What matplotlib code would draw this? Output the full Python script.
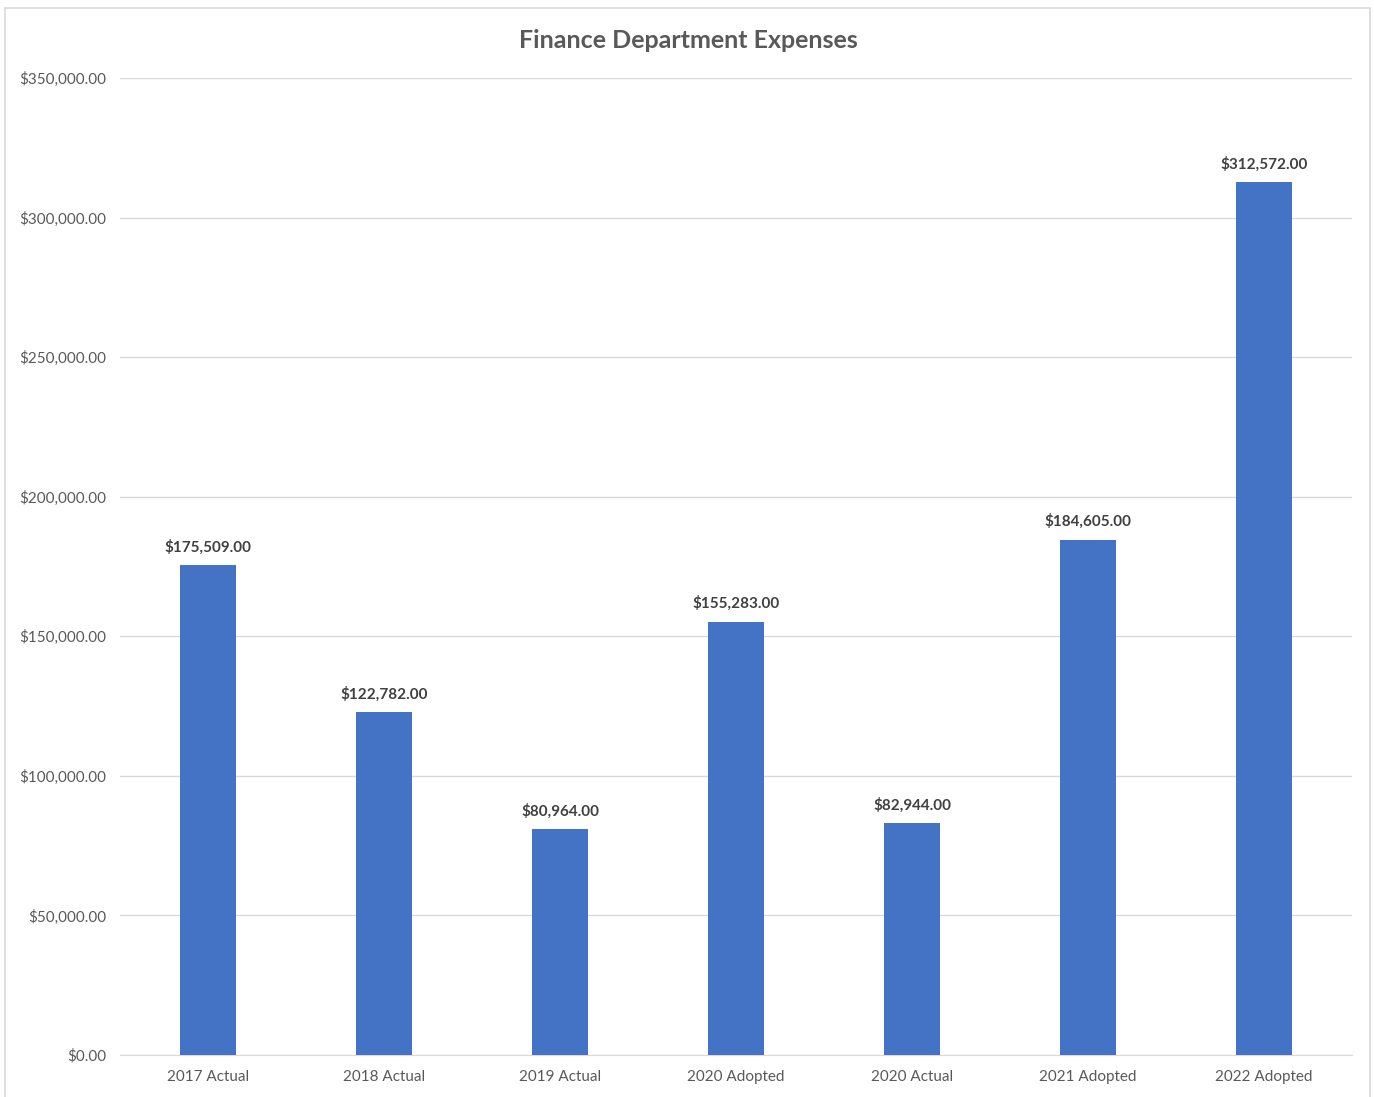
import matplotlib.pyplot as plt
from matplotlib.patches import Rectangle
from matplotlib.ticker import FuncFormatter

categories = ['2017 Actual', '2018 Actual', '2019 Actual', '2020 Adopted',
              '2020 Actual', '2021 Adopted', '2022 Adopted']
expenses = [175509, 122782, 80964, 155283, 82944, 184605, 312572]

plt.rcParams['font.family'] = ['Lato', 'DejaVu Sans']

fig = plt.figure(figsize=(13.74, 10.97), dpi=100)
# chart area frame
fig.add_artist(Rectangle((5 / 1374, -0.01), 1365 / 1374, 1 - 8 / 1097 + 0.01,
                         transform=fig.transFigure, fill=False,
                         edgecolor='#d9d9d9', linewidth=1.2))

ax = fig.add_axes([120 / 1374, 1 - 1055 / 1097, 1232 / 1374, (1055 - 78) / 1097])
x = range(len(categories))
bars = ax.bar(x, expenses, width=0.32, color='#4472C4', zorder=3)

for bar, v in zip(bars, expenses):
    ax.annotate(f'${v:,.2f}', (bar.get_x() + bar.get_width() / 2, v),
                xytext=(0, 7.5), textcoords='offset points', ha='center', va='bottom',
                fontsize=11, fontweight='bold', color='#404040')

ax.set_xlim(-0.5, len(categories) - 0.5)
ax.set_ylim(0, 350000)
ax.set_yticks(range(0, 350001, 50000))
ax.yaxis.set_major_formatter(FuncFormatter(lambda v, p: f'${v:,.2f}'))
ax.set_xticks(list(x))
ax.set_xticklabels(categories)
ax.tick_params(axis='both', length=0, labelsize=11, labelcolor='#595959')
ax.tick_params(axis='y', pad=10)
ax.tick_params(axis='x', pad=11)
ax.grid(axis='y', color='#d9d9d9', linewidth=1, zorder=0)
for side in ['top', 'right', 'left']:
    ax.spines[side].set_visible(False)
ax.spines['bottom'].set_color('#d9d9d9')

fig.text(688 / 1374, 1 - 40 / 1097, 'Finance Department Expenses', ha='center', va='center',
         fontsize=18, fontweight='bold', color='#595959')

plt.savefig('out.png', dpi=100)
